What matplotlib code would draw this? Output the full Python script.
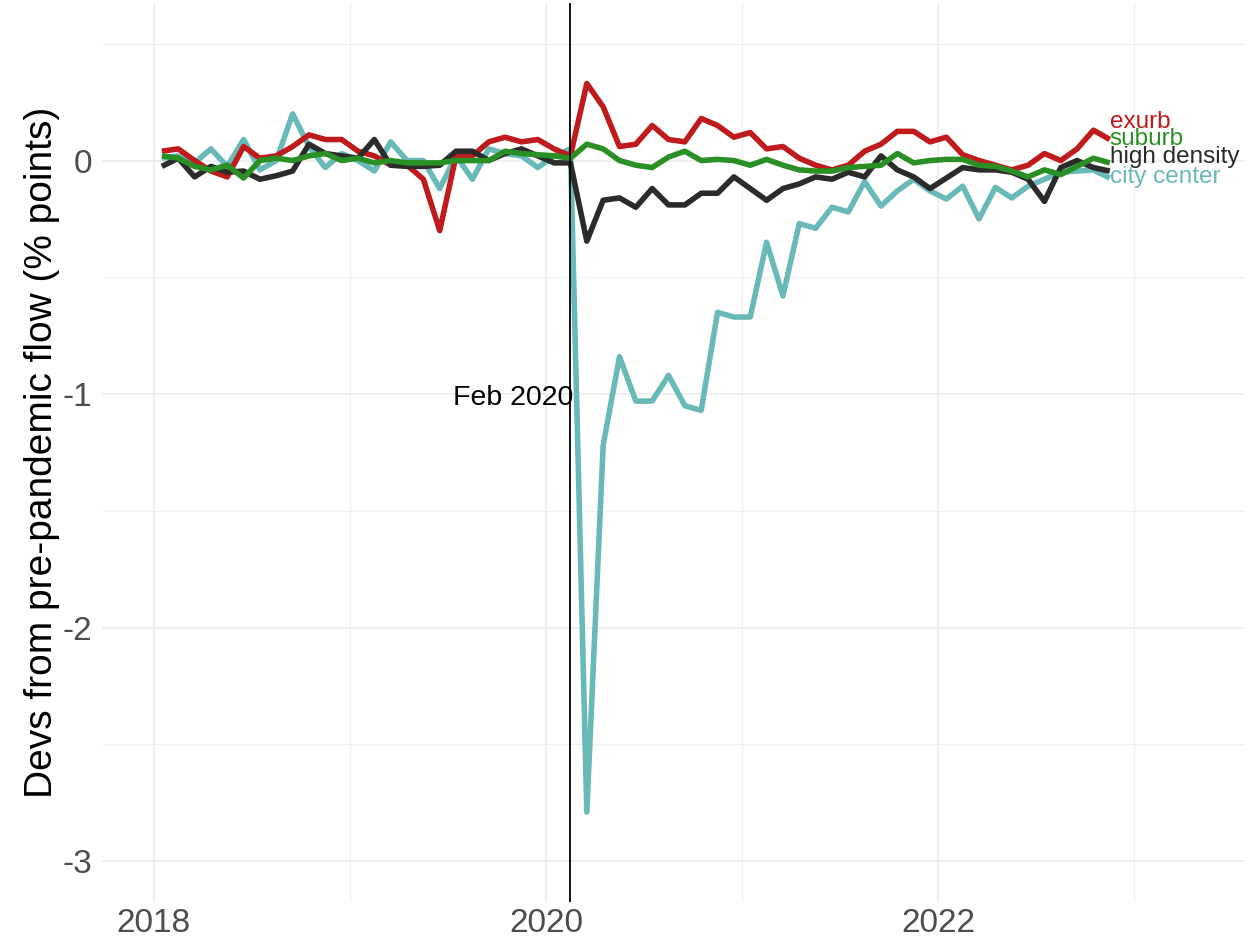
import numpy as np
import matplotlib
matplotlib.use("Agg")
import matplotlib.pyplot as plt
from matplotlib.ticker import MultipleLocator

# monthly values, Jan 2018 .. Nov 2022 (plotted mid-month)
start_year = 2018
n_months = 59

exurb = [0.04, 0.05, 0.00, -0.045, -0.07, 0.06, 0.01, 0.02, 0.06, 0.11,
         0.09, 0.09, 0.04, 0.02, -0.02, -0.02, -0.08, -0.30, 0.02, 0.02,
         0.08, 0.10, 0.08, 0.09, 0.05, 0.02, 0.33, 0.23, 0.06, 0.07,
         0.15, 0.09, 0.08, 0.18, 0.15, 0.10, 0.12, 0.05, 0.06, 0.01,
         -0.02, -0.04, -0.02, 0.04, 0.07, 0.125, 0.125, 0.08, 0.10, 0.025,
         0.00, -0.02, -0.04, -0.02, 0.03, 0.00, 0.05, 0.13, 0.09]

suburb = [0.02, 0.01, -0.025, -0.04, -0.02, -0.075, 0.00, 0.01, 0.00, 0.02,
          0.03, 0.00, 0.01, -0.01, 0.00, -0.01, -0.01, -0.01, 0.00, 0.00,
          0.00, 0.04, 0.03, 0.025, 0.02, 0.01, 0.07, 0.05, 0.00, -0.02,
          -0.03, 0.015, 0.04, 0.00, 0.005, 0.00, -0.02, 0.005, -0.02, -0.04,
          -0.045, -0.045, -0.03, -0.025, -0.02, 0.03, -0.01, 0.00, 0.005, 0.005,
          -0.02, -0.025, -0.045, -0.07, -0.04, -0.06, -0.025, 0.01, -0.01]

high_density = [-0.025, 0.01, -0.07, -0.025, -0.05, -0.045, -0.08, -0.065, -0.045, 0.07,
                0.03, 0.02, 0.01, 0.09, -0.02, -0.025, -0.025, -0.02, 0.04, 0.04,
                0.00, 0.03, 0.05, 0.02, -0.01, -0.01, -0.345, -0.17, -0.16, -0.20,
                -0.12, -0.19, -0.19, -0.14, -0.14, -0.07, -0.12, -0.17, -0.12, -0.10,
                -0.07, -0.08, -0.05, -0.07, 0.02, -0.04, -0.07, -0.12, -0.075, -0.03,
                -0.04, -0.04, -0.05, -0.08, -0.175, -0.03, 0.00, -0.03, -0.045]

city_center = [0.01, 0.02, -0.01, 0.05, -0.025, 0.09, -0.04, 0.00, 0.20, 0.06,
               -0.03, 0.03, 0.00, -0.045, 0.08, 0.00, 0.00, -0.12, 0.02, -0.08,
               0.05, 0.03, 0.02, -0.03, 0.02, 0.05, -2.79, -1.22, -0.84, -1.03,
               -1.03, -0.92, -1.05, -1.07, -0.65, -0.67, -0.67, -0.35, -0.58, -0.27,
               -0.29, -0.20, -0.22, -0.09, -0.195, -0.13, -0.08, -0.13, -0.165, -0.11,
               -0.25, -0.115, -0.16, -0.11, -0.08, -0.05, -0.045, -0.04, -0.075]

series_names = ["city center", "exurb", "high density", "suburb"]
series_colors = ["#69B9B8", "#BF1A1C", "#2B2B2B", "#2A8F25"]
# where the end labels sit (baseline, in data units)
label_y = [-0.095, 0.14, -0.01, 0.065]

x_ticks = [2018, 2020, 2022]
y_ticks = [-3, -2, -1, 0]
feb_2020 = 2020 + 1.5 / 12

plt.rcParams["font.family"] = ["Liberation Sans", "DejaVu Sans"]

x = start_year + (np.arange(n_months) + 0.5) / 12
values = [city_center, exurb, high_density, suburb]

fig = plt.figure(figsize=(12.53, 9.42), dpi=100)
ax = fig.add_axes([0.0812, 0.0425, 0.9125, 0.9544])

for name, vals, col, ly in zip(series_names, values, series_colors, label_y):
    ax.plot(x, vals, color=col, lw=4, solid_capstyle="butt",
            solid_joinstyle="round", zorder=3)
    ax.text(x[-1], ly, name, color=col, fontsize=17.5,
            ha="left", va="baseline", zorder=4)

ax.axvline(feb_2020, color="black", lw=1.3, zorder=5)
ax.text(feb_2020 + 0.014, -1.046, "Feb 2020", fontsize=20.5,
        ha="right", va="baseline", color="black", zorder=6)

# ggplot-like limits: (-3, 0.5) and (2018, 2023.3) with 5% padding
ax.set_xlim(2018 - 0.05 * 5.3, 2023.3 + 0.05 * 5.3)
ax.set_ylim(-3 - 0.05 * 3.5, 0.5 + 0.05 * 3.5)

ax.set_xticks(x_ticks)
ax.set_xticklabels([str(t) for t in x_ticks])
ax.set_yticks(y_ticks)
ax.set_yticklabels([str(t) for t in y_ticks])
ax.xaxis.set_minor_locator(MultipleLocator(1))
ax.yaxis.set_minor_locator(MultipleLocator(0.5))

ax.grid(which="major", color="#EBEBEB", lw=1.1, zorder=0)
ax.grid(which="minor", color="#EFEFEF", lw=0.8, zorder=0)
ax.set_axisbelow(True)

ax.tick_params(which="both", length=0)
ax.tick_params(axis="x", labelsize=24, labelcolor="#4D4D4D", pad=4)
ax.tick_params(axis="y", labelsize=24, labelcolor="#4D4D4D", pad=7)

for s in ax.spines.values():
    s.set_visible(False)

ax.set_ylabel("Devs from pre-pandemic flow (% points)", fontsize=28, color="black")
ax.yaxis.set_label_coords(-0.0525, 0.5)
ax.yaxis.label.set_verticalalignment("center")

fig.savefig("out.png", dpi=100, facecolor="white")
